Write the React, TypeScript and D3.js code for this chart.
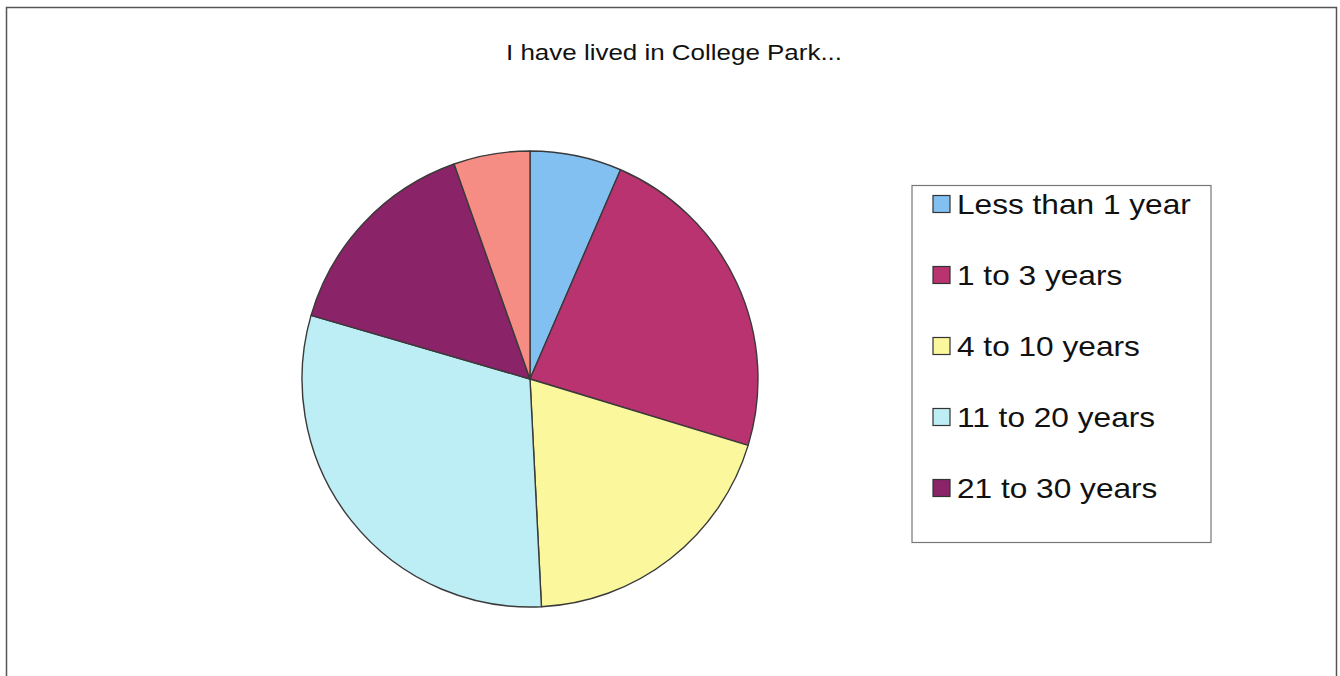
import React from "react";
import * as d3 from "d3";

const categories = ["Less than 1 year", "1 to 3 years", "4 to 10 years", "11 to 20 years", "21 to 30 years", "More than 30 years"];
const values = [6.5, 23.2, 19.5, 30.3, 15.1, 5.4];
const colors = ["#82C0F2", "#B8336F", "#FAF79C", "#BDEEF6", "#8A2368", "#F68D85"];
const legendShown = 5;
const title = "I have lived in College Park...";

export default function App() {
  const W = 1340, H = 676;
  const cx = 530, cy = 379, r = 228;
  const pie = d3.pie<number>().sort(null).value((d) => d);
  const arcs = pie(values);
  const arc = d3.arc<d3.PieArcDatum<number>>().innerRadius(0).outerRadius(r);
  const legendY = d3.scalePoint<number>().domain(d3.range(legendShown)).range([204, 488]);
  const font = "Liberation Sans, Arial, sans-serif";
  return (
    <svg width={W} height={H} style={{ position: "absolute", left: 0, top: 0, background: "#fff" }}>
      <rect x={0} y={0} width={W} height={H} fill="#fff" />
      <rect x={6.5} y={7.5} width={1330} height={680} fill="none" stroke="#555" strokeWidth={1.5} />
      <text transform="translate(674,60) scale(1.18,1)" textAnchor="middle" fontFamily={font} fontSize={22} fill="#111">
        {title}
      </text>
      <g transform={`translate(${cx},${cy})`}>
        {arcs.map((a, i) => (
          <path key={i} d={arc(a) || ""} fill={colors[i]} stroke="#3a3a3a" strokeWidth={1.4} strokeLinejoin="round" />
        ))}
      </g>
      <rect x={912} y={185.5} width={299} height={357} fill="#fff" stroke="#777" strokeWidth={1.2} />
      {categories.slice(0, legendShown).map((c, i) => {
        const y = legendY(i) as number;
        return (
          <g key={c}>
            <rect x={933} y={y - 8.5} width={17} height={17} fill={colors[i]} stroke="#333" strokeWidth={1.2} />
            <text transform={`translate(957,${y + 10}) scale(1.13,1)`} fontFamily={font} fontSize={28} fill="#111">
              {c}
            </text>
          </g>
        );
      })}
    </svg>
  );
}
